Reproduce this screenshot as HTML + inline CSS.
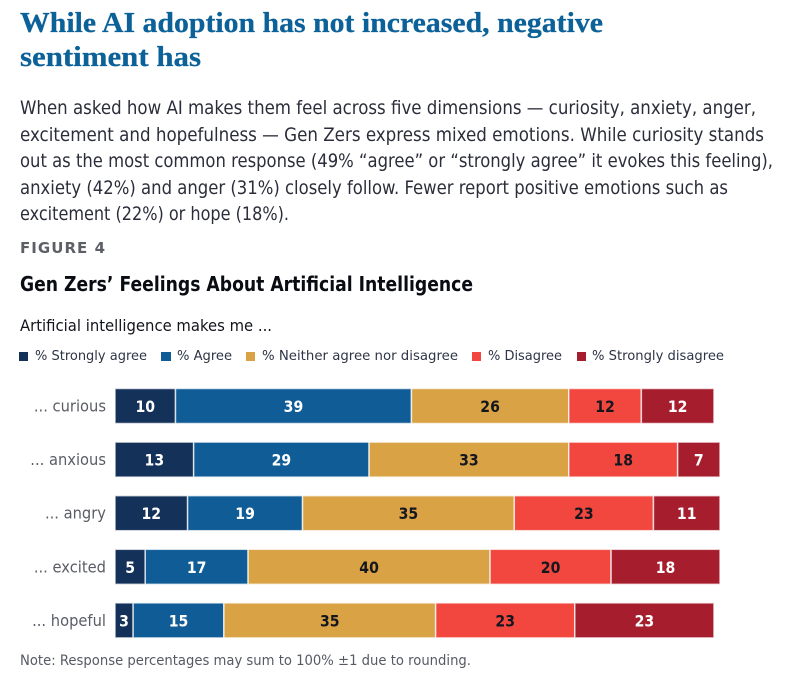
<!DOCTYPE html>
<html lang="en">
<head>
<meta charset="utf-8">
<title>Gen Zers' Feelings About Artificial Intelligence</title>
<style>
html,body{margin:0;padding:0;background:#fff;width:799px;height:676px;overflow:hidden}
svg{display:block}
text{font-family:"DejaVu Sans","Liberation Sans",sans-serif}
.ttl{font-family:"Liberation Serif",serif;font-weight:700;font-size:29px;fill:#0b6198;stroke:#0b6198;stroke-width:.25}
.body{font-size:18.4px;fill:#2b2d3a}
.leg{font-size:13.6px;fill:#2c3445}
</style>
</head>
<body>
<svg id="chart" xmlns="http://www.w3.org/2000/svg" width="799" height="676" viewBox="0 0 799 676">
  <rect width="799" height="676" fill="#fff"/>
  <text class="ttl" x="20" y="32" textLength="583" lengthAdjust="spacingAndGlyphs">While AI adoption has not increased, negative</text>
  <text class="ttl" x="20" y="66" textLength="181" lengthAdjust="spacingAndGlyphs">sentiment has</text>

  <text class="body" x="20" y="114" textLength="736" lengthAdjust="spacingAndGlyphs">When asked how AI makes them feel across five dimensions — curiosity, anxiety, anger,</text>
  <text class="body" x="20" y="141" textLength="744" lengthAdjust="spacingAndGlyphs">excitement and hopefulness — Gen Zers express mixed emotions. While curiosity stands</text>
  <text class="body" x="20" y="167" textLength="753" lengthAdjust="spacingAndGlyphs">out as the most common response (49% “agree” or “strongly agree” it evokes this feeling),</text>
  <text class="body" x="20" y="194" textLength="708" lengthAdjust="spacingAndGlyphs">anxiety (42%) and anger (31%) closely follow. Fewer report positive emotions such as</text>
  <text class="body" x="20" y="220" textLength="269" lengthAdjust="spacingAndGlyphs">excitement (22%) or hope (18%).</text>

  <text x="20" y="253" font-size="15" font-weight="700" fill="#5c5f66" textLength="85">FIGURE 4</text>
  <text x="20" y="291" font-size="20" font-weight="700" fill="#0a0c14" textLength="453" lengthAdjust="spacingAndGlyphs">Gen Zers’ Feelings About Artificial Intelligence</text>
  <text x="20" y="331" font-size="16" fill="#12141c" textLength="252" lengthAdjust="spacingAndGlyphs">Artificial intelligence makes me ...</text>

  <g>
    <rect x="19" y="352" width="9" height="9" fill="#14315a"/>
    <text class="leg" x="35" y="360" textLength="112" lengthAdjust="spacingAndGlyphs">% Strongly agree</text>
    <rect x="161" y="352" width="10" height="9" fill="#0f5c96"/>
    <text class="leg" x="177" y="360" textLength="55" lengthAdjust="spacingAndGlyphs">% Agree</text>
    <rect x="246" y="352" width="9" height="9" fill="#d9a244"/>
    <text class="leg" x="262" y="360" textLength="196" lengthAdjust="spacingAndGlyphs">% Neither agree nor disagree</text>
    <rect x="472" y="352" width="9" height="9" fill="#f2473f"/>
    <text class="leg" x="488" y="360" textLength="74" lengthAdjust="spacingAndGlyphs">% Disagree</text>
    <rect x="577" y="352" width="9" height="9" fill="#a61e2e"/>
    <text class="leg" x="592" y="360" textLength="132" lengthAdjust="spacingAndGlyphs">% Strongly disagree</text>
  </g>

  <g id="bars"></g>

  <text x="20" y="665" font-size="14" fill="#555a63" textLength="451" lengthAdjust="spacingAndGlyphs">Note: Response percentages may sum to 100% ±1 due to rounding.</text>
</svg>
<script>
var categories = ['... curious', '... anxious', '... angry', '... excited', '... hopeful'];
var stronglyAgree = [10, 13, 12, 5, 3];
var agree = [39, 29, 19, 17, 15];
var neither = [26, 33, 35, 40, 35];
var disagree = [12, 18, 23, 20, 23];
var stronglyDisagree = [12, 7, 11, 18, 23];

var series = [stronglyAgree, agree, neither, disagree, stronglyDisagree];
var seriesKeys = ['strongly-agree', 'agree', 'neither', 'disagree', 'strongly-disagree'];
var fills = ['#14315a', '#0f5c96', '#d9a244', '#f2473f', '#a61e2e'];
var labelFills = ['#ffffff', '#ffffff', '#15171f', '#15171f', '#ffffff'];

var SVG_NS = 'http://www.w3.org/2000/svg';
var barsGroup = document.getElementById('bars');

function xScale(v) { return 115 + v * 6.05; }
function yScale(i) { return 388.5 + i * 53.6; }
var BAR_H = 35;

categories.forEach(function (cat, i) {
  var y = yScale(i);
  var label = document.createElementNS(SVG_NS, 'text');
  
  
  label.setAttribute('transform', 'translate(106,' + (y + BAR_H / 2 + 5.5) + ') scale(0.93,1)');
  label.setAttribute('text-anchor', 'end');
  label.setAttribute('font-size', '15.8');
  label.setAttribute('fill', '#5a5d66');
  label.textContent = cat;
  barsGroup.appendChild(label);

  var cum = 0;
  series.forEach(function (vals, s) {
    var v = vals[i];
    var x0 = xScale(cum);
    var x1 = xScale(cum + v);
    cum += v;

    var rect = document.createElementNS(SVG_NS, 'rect');
    
    
    rect.setAttribute('data-series', seriesKeys[s]);
    rect.setAttribute('x', x0);
    rect.setAttribute('y', y);
    rect.setAttribute('width', x1 - x0);
    rect.setAttribute('height', BAR_H);
    rect.setAttribute('fill', fills[s]);
    rect.setAttribute('stroke', '#ffffff');
    rect.setAttribute('stroke-opacity', '0.72');
    rect.setAttribute('stroke-width', '1.5');
    barsGroup.appendChild(rect);

    var t = document.createElementNS(SVG_NS, 'text');
    
    
    t.setAttribute('transform', 'translate(' + ((x0 + x1) / 2) + ',' + (y + BAR_H / 2 + 6) + ') scale(0.88,1)');
    t.setAttribute('text-anchor', 'middle');
    t.setAttribute('font-size', '16');
    t.setAttribute('font-weight', '700');
    t.setAttribute('fill', labelFills[s]);
    t.textContent = v;
    barsGroup.appendChild(t);
  });
});
</script>
</body>
</html>
